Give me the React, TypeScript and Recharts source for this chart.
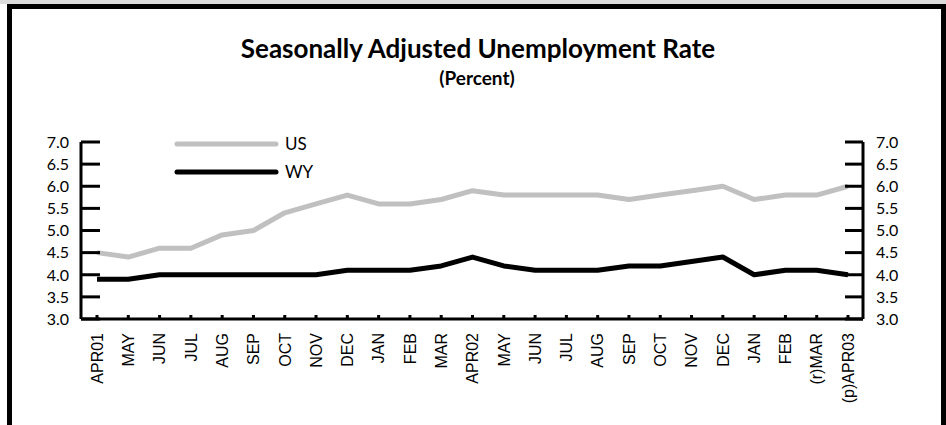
import React from 'react';
import { LineChart, Line, XAxis, YAxis, Legend } from 'recharts';

const months = ['APR01', 'MAY', 'JUN', 'JUL', 'AUG', 'SEP', 'OCT', 'NOV', 'DEC', 'JAN', 'FEB', 'MAR', 'APR02', 'MAY', 'JUN', 'JUL', 'AUG', 'SEP', 'OCT', 'NOV', 'DEC', 'JAN', 'FEB', '(r)MAR', '(p)APR03'];
const usRate = [4.5, 4.4, 4.6, 4.6, 4.9, 5.0, 5.4, 5.6, 5.8, 5.6, 5.6, 5.7, 5.9, 5.8, 5.8, 5.8, 5.8, 5.7, 5.8, 5.9, 6.0, 5.7, 5.8, 5.8, 6.0];
const wyRate = [3.9, 3.9, 4.0, 4.0, 4.0, 4.0, 4.0, 4.0, 4.1, 4.1, 4.1, 4.2, 4.4, 4.2, 4.1, 4.1, 4.1, 4.2, 4.2, 4.3, 4.4, 4.0, 4.1, 4.1, 4.0];
const yTicks = [3.0, 3.5, 4.0, 4.5, 5.0, 5.5, 6.0, 6.5, 7.0];
const seriesNames = ['US', 'WY'];
const seriesColors = ['#c0c0c0', '#000000'];

const data = months.map((m, i) => ({ idx: i, month: m, US: usRate[i], WY: wyRate[i] }));

const NUM_FONT = 'Lato, "Open Sans", sans-serif';
const LABEL_FONT = '"Liberation Sans", Arial, sans-serif';

const LeftTick = (props: any) => {
  const { x, y, payload } = props;
  return (
    <g>
      <line x1={x} x2={x + 19} y1={y} y2={y} stroke="#000" strokeWidth={3} />
      <text x={x - 12} y={y} dy="0.36em" textAnchor="end" fontFamily={NUM_FONT} fontSize={16} fill="#000">
        {Number(payload.value).toFixed(1)}
      </text>
    </g>
  );
};

const RightTick = (props: any) => {
  const { x, y, payload } = props;
  return (
    <g>
      <line x1={x - 18} x2={x} y1={y} y2={y} stroke="#000" strokeWidth={3} />
      <text x={x + 13} y={y} dy="0.36em" textAnchor="start" fontFamily={NUM_FONT} fontSize={16} fill="#000">
        {Number(payload.value).toFixed(1)}
      </text>
    </g>
  );
};

const BottomTick = (props: any) => {
  const { x, y, payload } = props;
  const label = months[payload.value] ?? '';
  return (
    <g>
      <line x1={x} x2={x} y1={y} y2={y - 4} stroke="#000" strokeWidth={3} />
      <text
        x={x}
        y={y + 14}
        dy="0.36em"
        textAnchor="end"
        transform={`rotate(-90, ${x}, ${y + 14})`}
        fontFamily={LABEL_FONT}
        fontSize={16}
        fill="#000"
      >
        {label}
      </text>
    </g>
  );
};

const LegendContent = () => (
  <svg width={170} height={64} style={{ display: 'block', overflow: 'visible' }}>
    {seriesNames.map((name, i) => (
      <g key={name}>
        <line x1={4} x2={103} y1={16 + i * 28} y2={16 + i * 28} stroke={seriesColors[i]} strokeWidth={5} strokeLinecap="round" />
        <text x={112} y={16 + i * 28} dy="0.36em" fontFamily={NUM_FONT} fontSize={17} fill="#000">
          {name}
        </text>
      </g>
    ))}
  </svg>
);

export default function App() {
  return (
    <div style={{ position: 'absolute', left: 0, top: 0, width: 946, height: 425, background: '#fff', overflow: 'hidden' }}>
      <div style={{ position: 'absolute', left: 0, top: 0, width: 946, height: 4, background: '#dcdcdc' }} />
      <div
        style={{
          position: 'absolute',
          left: 7,
          top: 4,
          width: 939,
          height: 430,
          boxSizing: 'border-box',
          borderTop: '5px solid #000',
          borderLeft: '5px solid #000',
          borderRight: '5px solid #000',
        }}
      />
      <div
        style={{
          position: 'absolute',
          left: 0,
          top: 33,
          width: 956,
          textAlign: 'center',
          fontFamily: NUM_FONT,
          fontWeight: 700,
          fontSize: 26,
          lineHeight: '30px',
          color: '#000',
          whiteSpace: 'nowrap',
        }}
      >
        Seasonally Adjusted Unemployment Rate
      </div>
      <div
        style={{
          position: 'absolute',
          left: 0,
          top: 67,
          width: 954,
          textAlign: 'center',
          fontFamily: NUM_FONT,
          fontWeight: 700,
          fontSize: 19,
          lineHeight: '22px',
          color: '#000',
          whiteSpace: 'nowrap',
        }}
      >
        (Percent)
      </div>
      <div style={{ position: 'absolute', left: 0, top: 0 }}>
        <LineChart width={946} height={425} data={data} margin={{ top: 142, right: 0, bottom: 46, left: 0 }}>
          <XAxis
            dataKey="idx"
            type="category"
            height={60}
            padding={{ left: 16, right: 15 }}
            axisLine={{ stroke: '#000', strokeWidth: 3 }}
            tickLine={false}
            tickSize={0}
            tickMargin={0}
            interval={0}
            tick={<BottomTick />}
          />
          <YAxis
            yAxisId="left"
            orientation="left"
            width={81}
            domain={[3, 7]}
            ticks={yTicks}
            type="number"
            allowDataOverflow
            axisLine={{ stroke: '#000', strokeWidth: 3 }}
            tickLine={false}
            tickSize={0}
            tickMargin={0}
            interval={0}
            tick={<LeftTick />}
          />
          <YAxis
            yAxisId="right"
            orientation="right"
            width={83}
            domain={[3, 7]}
            ticks={yTicks}
            type="number"
            allowDataOverflow
            axisLine={{ stroke: '#000', strokeWidth: 3 }}
            tickLine={false}
            tickSize={0}
            tickMargin={0}
            interval={0}
            tick={<RightTick />}
          />
          <Legend
            layout="horizontal"
            verticalAlign="middle"
            align="center"
            content={<LegendContent />}
            wrapperStyle={{ position: 'absolute', left: 173, top: 128, width: 170, height: 64 }}
          />
          <Line
            yAxisId="left"
            type="linear"
            dataKey="US"
            name="US"
            stroke={seriesColors[0]}
            strokeWidth={5}
            strokeLinejoin="round"
            dot={false}
            activeDot={false}
            isAnimationActive={false}
          />
          <Line
            yAxisId="right"
            type="linear"
            dataKey="WY"
            name="WY"
            stroke={seriesColors[1]}
            strokeWidth={5}
            strokeLinejoin="round"
            dot={false}
            activeDot={false}
            isAnimationActive={false}
          />
        </LineChart>
      </div>
    </div>
  );
}
